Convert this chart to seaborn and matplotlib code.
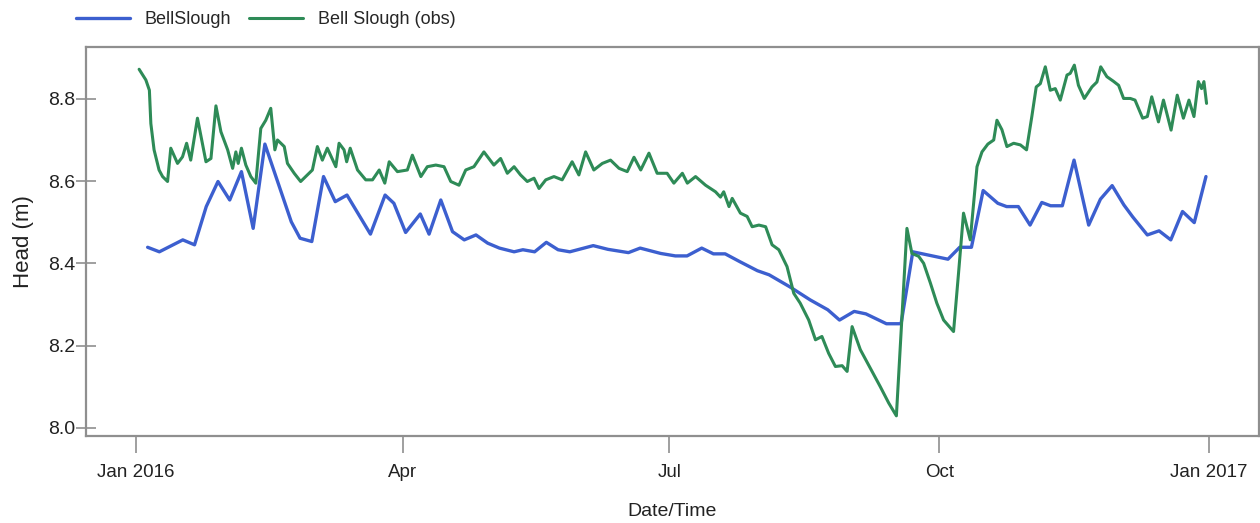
import numpy as np
import pandas as pd
import matplotlib
matplotlib.use("Agg")
import matplotlib.pyplot as plt
import seaborn as sns

# days after 2016-01-01 and head (m)
model_days = [4, 8, 16, 20, 24, 28, 32, 36, 40, 44, 53, 56, 60, 64, 68, 72, 80, 85, 88, 92,
              97, 100, 104, 108, 112, 116, 120, 124, 129, 132, 136, 140, 144, 148, 156, 161,
              168, 172, 179, 184, 188, 193, 197, 201, 206, 212, 216, 223, 230, 236, 240, 245,
              249, 256, 261, 265, 277, 281, 285, 289, 294, 297, 301, 305, 309, 312, 316, 320,
              325, 329, 333, 337, 340, 345, 349, 353, 357, 361, 365]
model_head = [8.439, 8.428, 8.457, 8.445, 8.538, 8.599, 8.554, 8.623, 8.485, 8.690, 8.501,
              8.461, 8.453, 8.611, 8.550, 8.566, 8.471, 8.566, 8.546, 8.475, 8.520, 8.471,
              8.554, 8.477, 8.457, 8.469, 8.449, 8.437, 8.428, 8.433, 8.428, 8.451, 8.433,
              8.428, 8.443, 8.434, 8.426, 8.437, 8.424, 8.418, 8.418, 8.437, 8.423, 8.423,
              8.404, 8.382, 8.372, 8.343, 8.311, 8.287, 8.262, 8.283, 8.277, 8.253, 8.253,
              8.428, 8.410, 8.439, 8.439, 8.577, 8.546, 8.538, 8.538, 8.493, 8.548, 8.540,
              8.540, 8.651, 8.493, 8.556, 8.589, 8.542, 8.513, 8.469, 8.479, 8.457, 8.526,
              8.499, 8.611]

obs_days = [1.1, 3.4, 4.6, 5.1, 6.2, 7.9, 9.1, 10.8, 11.9, 14.2, 15.9, 17.3, 18.7, 21.0,
            23.9, 25.6, 27.3, 29.0, 31.3, 33.0, 34.1, 34.9, 36.0, 37.5, 39.2, 40.9, 42.6,
            44.3, 46.0, 47.4, 48.3, 50.6, 51.7, 54.0, 56.2, 57.9, 60.2, 61.9, 63.6, 65.3,
            68.2, 69.3, 71.0, 71.9, 73.1, 75.6, 78.4, 80.7, 83.0, 84.9, 86.4, 89.2, 92.6,
            94.3, 97.2, 99.4, 102.3, 105.1, 107.4, 110.2, 112.5, 115.3, 118.7, 122.1,
            124.4, 126.7, 129.0, 131.2, 133.5, 135.8, 137.5, 139.8, 142.6, 145.4, 148.8,
            151.1, 153.4, 156.2, 159.1, 161.9, 164.8, 167.6, 169.9, 172.2, 175.0, 177.8,
            181.2, 183.5, 186.4, 188.1, 190.9, 194.3, 197.7, 199.4, 200.5, 202.3, 203.4,
            206.2, 208.5, 210.2, 212.5, 214.8, 217.0, 219.3, 222.1, 224.4, 226.6, 229.5,
            231.8, 234.0, 236.3, 238.6, 240.9, 242.6, 244.3, 247.1, 250.5, 253.9, 256.8,
            259.4, 263.0, 264.7, 267.0, 268.7, 271.0, 273.2, 275.5, 278.9, 280.6, 282.3,
            284.6, 286.9, 288.6, 290.6, 292.6, 293.7, 295.4, 297.1, 299.4, 301.7, 303.8,
            305.6, 307.1, 308.5, 310.2, 311.9, 313.6, 315.3, 317.6, 318.7, 320.1, 321.5,
            323.5, 326.1, 327.8, 329.1, 331.2, 333.4, 335.2, 336.9, 339.2, 340.8, 343.4,
            345.0, 346.5, 348.8, 350.5, 353.1, 355.2, 357.3, 359.2, 360.9, 362.4, 363.5,
            364.3, 365.2]
obs_head = [8.872, 8.846, 8.821, 8.740, 8.676, 8.627, 8.611, 8.599, 8.680, 8.643, 8.659,
            8.692, 8.651, 8.753, 8.647, 8.655, 8.783, 8.720, 8.676, 8.631, 8.671, 8.643,
            8.680, 8.639, 8.611, 8.595, 8.728, 8.748, 8.777, 8.676, 8.700, 8.684, 8.643,
            8.619, 8.599, 8.611, 8.627, 8.684, 8.651, 8.680, 8.635, 8.692, 8.676, 8.647,
            8.680, 8.627, 8.603, 8.603, 8.627, 8.595, 8.647, 8.623, 8.627, 8.663, 8.611,
            8.635, 8.639, 8.635, 8.599, 8.590, 8.627, 8.635, 8.671, 8.639, 8.655, 8.619,
            8.635, 8.615, 8.599, 8.607, 8.582, 8.603, 8.611, 8.603, 8.647, 8.615, 8.671,
            8.627, 8.643, 8.651, 8.631, 8.623, 8.658, 8.627, 8.668, 8.619, 8.619, 8.595,
            8.619, 8.595, 8.611, 8.590, 8.574, 8.561, 8.574, 8.538, 8.558, 8.522, 8.514,
            8.489, 8.493, 8.489, 8.445, 8.433, 8.392, 8.327, 8.303, 8.262, 8.214, 8.222,
            8.181, 8.149, 8.151, 8.137, 8.246, 8.190, 8.145, 8.100, 8.060, 8.029, 8.485,
            8.424, 8.417, 8.400, 8.352, 8.303, 8.262, 8.234, 8.376, 8.522, 8.457, 8.635,
            8.671, 8.690, 8.700, 8.748, 8.725, 8.684, 8.692, 8.688, 8.676, 8.757, 8.829,
            8.837, 8.878, 8.821, 8.825, 8.797, 8.858, 8.862, 8.882, 8.833, 8.801, 8.829,
            8.841, 8.878, 8.854, 8.843, 8.833, 8.801, 8.801, 8.797, 8.753, 8.757, 8.805,
            8.744, 8.797, 8.724, 8.809, 8.753, 8.797, 8.757, 8.842, 8.825, 8.842, 8.789]

tick_dates = ["2016-01-01", "2016-04-01", "2016-07-01", "2016-10-01", "2017-01-01"]
tick_labels = ["Jan 2016", "Apr", "Jul", "Oct", "Jan 2017"]
y_ticks = [8.0, 8.2, 8.4, 8.6, 8.8]

base = pd.Timestamp("2016-01-01")
model = pd.DataFrame({"date": base + pd.to_timedelta(model_days, unit="D"), "head": model_head})
obs = pd.DataFrame({"date": base + pd.to_timedelta(obs_days, unit="D"), "head": obs_head})

sns.set_style("white")
plt.rcParams["font.family"] = ["Liberation Sans", "DejaVu Sans"]

fig = plt.figure(figsize=(12.6, 5.23), dpi=100)
ax = fig.add_axes([0.0683, 0.1664, 0.9307, 0.7436])

sns.lineplot(data=model, x="date", y="head", ax=ax, color="#3c5fcf", lw=2.4, label="BellSlough")
sns.lineplot(data=obs, x="date", y="head", ax=ax, color="#2e8b57", lw=2.2, label="Bell Slough (obs)")

ax.set_xlim(pd.Timestamp("2015-12-15"), pd.Timestamp("2017-01-18"))
ax.set_ylim(7.98, 8.926)
ax.set_xticks(pd.to_datetime(tick_dates))
ax.set_xticklabels(tick_labels)
ax.set_yticks(y_ticks)
ax.set_yticklabels(["{:.1f}".format(v) for v in y_ticks])

for sp in ax.spines.values():
    sp.set_color("#8f8f8f")
    sp.set_linewidth(1.6)
ax.tick_params(axis="x", bottom=True, direction="out", length=12, width=1.2, color="#8f8f8f",
               labelsize=13.5, pad=8, labelcolor="#222222")
ax.tick_params(axis="y", left=True, direction="inout", length=14, width=1.2, color="#8f8f8f",
               labelsize=14, pad=1, labelcolor="#222222")

ax.set_xlabel("Date/Time", fontsize=14, color="#222222", labelpad=16)
ax.set_ylabel("Head (m)", fontsize=16, color="#222222", labelpad=10)

ax.get_legend().remove()
handles, labels = ax.get_legend_handles_labels()
fig.legend(handles, labels, loc="center left", bbox_to_anchor=(76 / 1260, 1 - 20 / 523),
           ncol=2, frameon=False, fontsize=13, handlelength=3.0, handletextpad=0.8,
           columnspacing=1.0, borderpad=0, borderaxespad=0)

fig.savefig("out.png", dpi=100)
